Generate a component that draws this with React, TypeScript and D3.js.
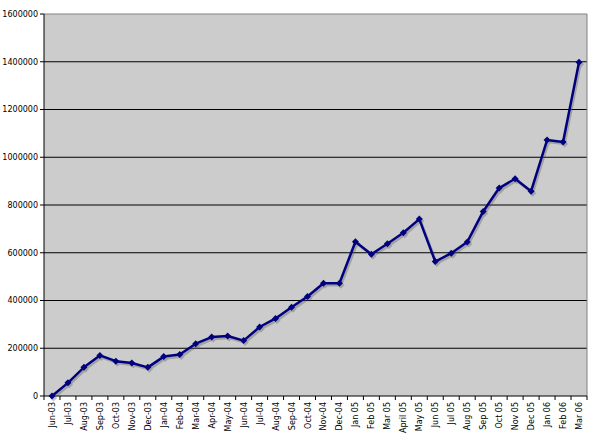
import React from "react";
import * as d3 from "d3";

const months = ["Jun-03","Jul-03","Aug-03","Sep-03","Oct-03","Nov-03","Dec-03","Jan-04","Feb-04","Mar-04","Apr-04","May-04","Jun-04","Jul-04","Aug-04","Sep-04","Oct-04","Nov-04","Dec-04","Jan 05","Feb 05","Mar 05","April 05","May 05","Jun 05","Jul 05","Aug 05","Sep 05","Oct 05","Nov 05","Dec 05","Jan 06","Feb 06","Mar 06"];
const values = [0,55000,120000,170000,146000,138000,120000,165000,174000,219000,247000,251000,232000,289000,325000,372000,417000,472000,472000,646000,594000,638000,684000,741000,563000,598000,645000,773000,871000,910000,858000,1072000,1064000,1398000];
const yTicks = [0,200000,400000,600000,800000,1000000,1200000,1400000,1600000];

const W = 595, H = 436;
const L = 44, R = 587, T = 14, B = 396;

export default function App() {
  const x = d3.scaleBand<string>().domain(months).range([L, R]);
  const y = d3.scaleLinear().domain([0, 1600000]).range([B, T]);
  const cx = (m: string) => (x(m) as number) + x.bandwidth() / 2;
  const pts: [number, number][] = months.map((m, i) => [cx(m), y(values[i])]);
  const line = d3.line();
  const path = line(pts) as string;
  const diamond = (px: number, py: number, s = 3.5) =>
    `M${px},${py - s}L${px + s},${py}L${px},${py + s}L${px - s},${py}Z`;
  const font = "'DejaVu Sans', Verdana, sans-serif";
  return (
    <svg width={W} height={H} style={{ position: "fixed", left: 0, top: 0, background: "#fff" }}>
      <rect x={L} y={T} width={R - L} height={B - T} fill="#cccccc" />
      {yTicks.map((t) => (
        <g key={t}>
          {t > 0 && t < 1600000 && (
            <line x1={L} x2={R} y1={y(t)} y2={y(t)} stroke="#000" strokeWidth={1} />
          )}
          <line x1={L - 4} x2={L} y1={y(t)} y2={y(t)} stroke="#000" />
          <text x={38} y={y(t)} dy="0.35em" textAnchor="end" fontFamily={font} fontSize={8} fill="#000">
            {t}
          </text>
        </g>
      ))}
      <line x1={L} x2={R} y1={T} y2={T} stroke="#808080" />
      <line x1={R} x2={R} y1={T} y2={B} stroke="#808080" />
      <line x1={L} x2={L} y1={T} y2={B} stroke="#000" />
      <line x1={L} x2={R} y1={B} y2={B} stroke="#000" />
      {months.map((m, i) => (
        <line key={"t" + i} x1={x(m) as number} x2={x(m) as number} y1={B} y2={B + 4} stroke="#000" />
      ))}
      <line x1={R} x2={R} y1={B} y2={B + 4} stroke="#000" />
      {months.map((m) => (
        <text
          key={m}
          transform={`translate(${cx(m) + 3},${B + 6}) rotate(-90)`}
          textAnchor="end"
          fontFamily={font}
          fontSize={8}
          fill="#000"
        >
          {m}
        </text>
      ))}
      <g transform="translate(1.5,2)" opacity={0.35}>
        <path d={path} fill="none" stroke="#555" strokeWidth={2.5} />
        {pts.map(([px, py], i) => (
          <path key={i} d={diamond(px, py)} fill="#555" />
        ))}
      </g>
      <path d={path} fill="none" stroke="#000080" strokeWidth={2.5} strokeLinejoin="round" />
      {pts.map(([px, py], i) => (
        <path key={i} d={diamond(px, py)} fill="#000080" />
      ))}
    </svg>
  );
}
